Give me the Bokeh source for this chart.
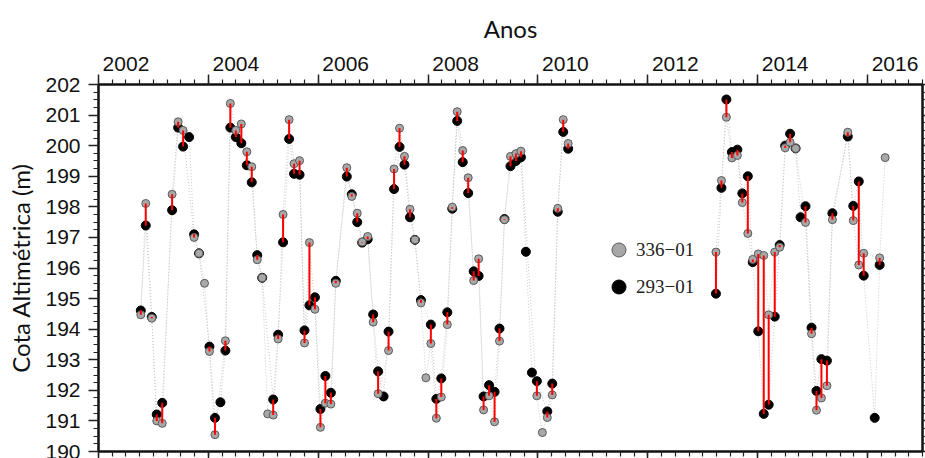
import numpy as np
from bokeh.plotting import figure
from bokeh.models import (LinearAxis, FixedTicker, Range1d, Legend, LegendItem,
                          ColumnDataSource)
from bokeh.embed import file_html
from bokeh.resources import INLINE

N = np.nan

# ---- data ----
dates = [2002.77, 2002.86, 2002.97, 2003.06, 2003.16, 2003.34, 2003.45, 2003.54, 2003.65, 2003.74,
         2003.83, 2003.93, 2004.02, 2004.12, 2004.22, 2004.31, 2004.40, 2004.50, 2004.60, 2004.70,
         2004.79, 2004.89, 2004.98, 2005.08, 2005.18, 2005.27, 2005.36, 2005.47, 2005.56, 2005.66,
         2005.75, 2005.84, 2005.94, 2006.04, 2006.13, 2006.23, 2006.32, 2006.52, 2006.61, 2006.71,
         2006.80, 2006.90, 2007.00, 2007.09, 2007.19, 2007.28, 2007.38, 2007.48, 2007.57, 2007.67,
         2007.76, 2007.87, 2007.96, 2008.05, 2008.15, 2008.24, 2008.35, 2008.44, 2008.53, 2008.63,
         2008.73, 2008.83, 2008.92, 2009.01, 2009.11, 2009.21, 2009.30, 2009.39, 2009.50, 2009.60,
         2009.69, 2009.78, 2009.89, 2009.98, 2010.08, 2010.17, 2010.26, 2010.36, 2010.46, 2010.55,
         2013.24, 2013.34, 2013.43, 2013.53, 2013.63, 2013.72, 2013.82, 2013.91, 2014.01, 2014.11,
         2014.20, 2014.31, 2014.40, 2014.50, 2014.59, 2014.69, 2014.78, 2014.87, 2014.98, 2015.07,
         2015.16, 2015.26, 2015.36, 2015.64, 2015.74, 2015.84, 2015.93, 2016.13, 2016.22, 2016.32]

level_336 = [194.47, 198.11, 194.36, 191.00, 190.92, 198.41, 200.78, 200.50, N, 197.00,
             196.48, 195.50, 193.27, 190.55, N, 193.62, 201.38, 200.50, 200.71, 199.80,
             199.31, 196.27, 195.68, 191.23, 191.19, 193.68, 197.75, 200.85, 199.41, 199.51,
             193.55, 196.83, 194.65, 190.79, 191.58, 191.55, 195.50, 199.28, 198.34, 197.79,
             196.85, 197.03, 194.23, 191.89, N, 193.30, 199.24, 200.57, 199.65, 197.92,
             196.92, 194.86, 192.41, 193.53, 191.09, 191.78, 194.15, 197.99, 201.11, 199.84,
             198.95, 195.59, 196.30, 191.36, 191.82, 190.97, 193.61, 197.58, 199.65, 199.74,
             199.82, N, N, 191.82, 190.62, 191.11, 191.85, 197.95, 200.85, 200.07,
             196.52, 198.86, 200.93, 199.60, 199.68, 198.14, 197.13, 196.28, 196.46, 196.41,
             194.47, 196.52, 196.68, 199.93, 200.11, 199.91, N, 197.49, 193.85, 191.35,
             191.75, 192.15, 197.58, 200.44, 197.55, 196.10, 196.48, N, 196.33, 199.61]

level_293 = [194.61, 197.39, 194.40, 191.21, 191.59, 197.89, 200.59, 199.97, 200.28, 197.10,
             196.48, N, 193.43, 191.10, 191.61, 193.30, 200.59, 200.28, 200.08, 199.36,
             198.80, 196.42, 195.68, N, 191.70, 193.82, 196.84, 200.22, 199.08, 199.05,
             193.96, 194.78, 195.04, 191.39, 192.47, 191.92, 195.58, 198.99, 198.41, 197.50,
             196.83, 196.94, 194.48, 192.62, 191.80, 193.92, 198.58, 199.96, 199.38, 197.66,
             196.92, 194.95, N, 194.15, 191.72, 192.39, 194.55, 197.94, 200.81, 199.46,
             198.45, 195.89, 195.74, 191.80, 192.17, 191.95, 194.02, 197.60, 199.33, 199.50,
             199.62, 196.53, 192.58, 192.30, N, 191.31, 192.22, 197.84, 200.45, 199.90,
             195.16, 198.62, 201.51, 199.79, 199.87, 198.44, 199.00, 196.19, 193.93, 191.23,
             191.53, 194.41, 196.75, 200.00, 200.39, 199.91, 197.66, 198.02, 194.05, 191.98,
             193.02, 192.97, 197.79, 200.30, 198.03, 198.83, 195.75, 191.10, 196.10, N]

series_names = ["336\u221201", "293\u221201"]
year_ticks = [2002, 2004, 2006, 2008, 2010, 2012, 2014, 2016]
year_labels = ["2002", "2004", "2006", "2008", "2010", "2012", "2014", "2016"]
y_ticks = list(range(190, 203))

x = np.array(dates, dtype=float)
g = np.array(level_336, dtype=float)
b = np.array(level_293, dtype=float)


def line_xy(xv, yv, gap=1.0):
    xs, ys, prev = [], [], None
    for xi, yi in zip(xv, yv):
        if np.isnan(yi):
            continue
        if prev is not None and xi - prev > gap:
            xs.append(np.nan)
            ys.append(np.nan)
        xs.append(xi)
        ys.append(yi)
        prev = xi
    return xs, ys


p = figure(width=925, height=458, x_range=Range1d(2002, 2017), y_range=Range1d(190, 202),
           x_axis_location=None, y_axis_location=None, output_backend="svg",
           toolbar_location=None, min_border_left=98, min_border_top=84,
           min_border_right=0, min_border_bottom=0)
p.grid.visible = False
p.outline_line_color = "#111111"
p.outline_line_width = 2
p.background_fill_color = "white"
p.border_fill_color = "white"

# dotted connecting lines
for yv in (g, b):
    lx, ly = line_xy(x, yv)
    p.line(lx, ly, line_color="#c8c8c8", line_width=1, line_dash="1 2")

src = ColumnDataSource(dict(x=x, g=g, b=b))
rb = p.scatter("x", "b", source=src, size=9, marker="circle", fill_color="black",
               line_color="black", line_width=1)
rg = p.scatter("x", "g", source=src, size=8, marker="circle", fill_color="#a8a8a8",
               line_color="#5a5a5a", line_width=1)

both = ~np.isnan(g) & ~np.isnan(b)
p.segment(x[both], g[both], x[both], b[both], line_color="#ff0000", line_width=2)

# ---- axes ----
minor_x = [2002 + 0.25 * k for k in range(61)]
minor_y = [190 + 0.25 * k for k in range(49)]


def tick_axis(ticker, out_major, out_minor):
    ax = LinearAxis(ticker=ticker)
    ax.major_tick_out = out_major
    ax.minor_tick_out = out_minor
    ax.major_tick_in = 0
    ax.minor_tick_in = 0
    ax.axis_line_width = 2
    ax.axis_line_color = "#111111"
    ax.major_tick_line_color = "#222222"
    ax.minor_tick_line_color = "#222222"
    ax.major_tick_line_width = 1.5
    ax.minor_tick_line_width = 1.2
    ax.major_label_text_color = None
    ax.major_label_text_font_size = "0px"
    ax.major_label_standoff = 0
    return ax


xt = FixedTicker(ticks=year_ticks, minor_ticks=minor_x)
yt = FixedTicker(ticks=y_ticks, minor_ticks=minor_y)

top_ticks = tick_axis(xt, 10, 5)
p.add_layout(top_ticks, "above")

label_pos = [t + 0.5 for t in year_ticks]
top_labels = LinearAxis(ticker=FixedTicker(ticks=label_pos, minor_ticks=[]))
top_labels.major_label_overrides = {lp: lab for lp, lab in zip(label_pos, year_labels)}
top_labels.major_tick_out = 0
top_labels.major_tick_in = 0
top_labels.minor_tick_out = 0
top_labels.minor_tick_in = 0
top_labels.axis_line_color = None
top_labels.major_tick_line_color = None
top_labels.minor_tick_line_color = None
top_labels.major_label_text_font = "Liberation Sans"
top_labels.major_label_text_font_size = "21px"
top_labels.major_label_text_color = "#111111"
top_labels.major_label_standoff = 4
top_labels.axis_label = "Anos"
top_labels.axis_label_text_font = "Lato"
top_labels.axis_label_text_font_size = "24px"
top_labels.axis_label_text_font_style = "normal"
top_labels.axis_label_text_color = "#111111"
top_labels.axis_label_standoff = 11
p.add_layout(top_labels, "above")

left = LinearAxis(ticker=yt)
left.major_tick_out = 10
left.minor_tick_out = 5
left.major_tick_in = 0
left.minor_tick_in = 0
left.axis_line_width = 2
left.axis_line_color = "#111111"
left.major_tick_line_color = "#222222"
left.minor_tick_line_color = "#222222"
left.major_tick_line_width = 1.5
left.minor_tick_line_width = 1.2
left.major_label_text_font = "Liberation Sans"
left.major_label_text_font_size = "21px"
left.major_label_text_color = "#111111"
left.major_label_standoff = 8
left.axis_label = "Cota Altim\u00e9trica (m)"
left.axis_label_text_font = "Lato"
left.axis_label_text_font_size = "24px"
left.axis_label_text_font_style = "normal"
left.axis_label_text_color = "#111111"
left.axis_label_standoff = 7
p.add_layout(left, "left")

p.add_layout(tick_axis(yt, 3, 3), "right")
p.add_layout(tick_axis(xt, 7, 5), "below")

legend = Legend(items=[LegendItem(label=series_names[0], renderers=[rg]),
                       LegendItem(label=series_names[1], renderers=[rb])],
                location=(503, 147), glyph_width=35, glyph_height=35, spacing=2,
                padding=0, margin=0, label_standoff=0, border_line_color=None,
                background_fill_alpha=0, label_text_font="Liberation Serif",
                label_text_font_size="19px", label_text_color="#222222")
p.add_layout(legend)

open("out.html", "w").write(file_html(p, INLINE))
